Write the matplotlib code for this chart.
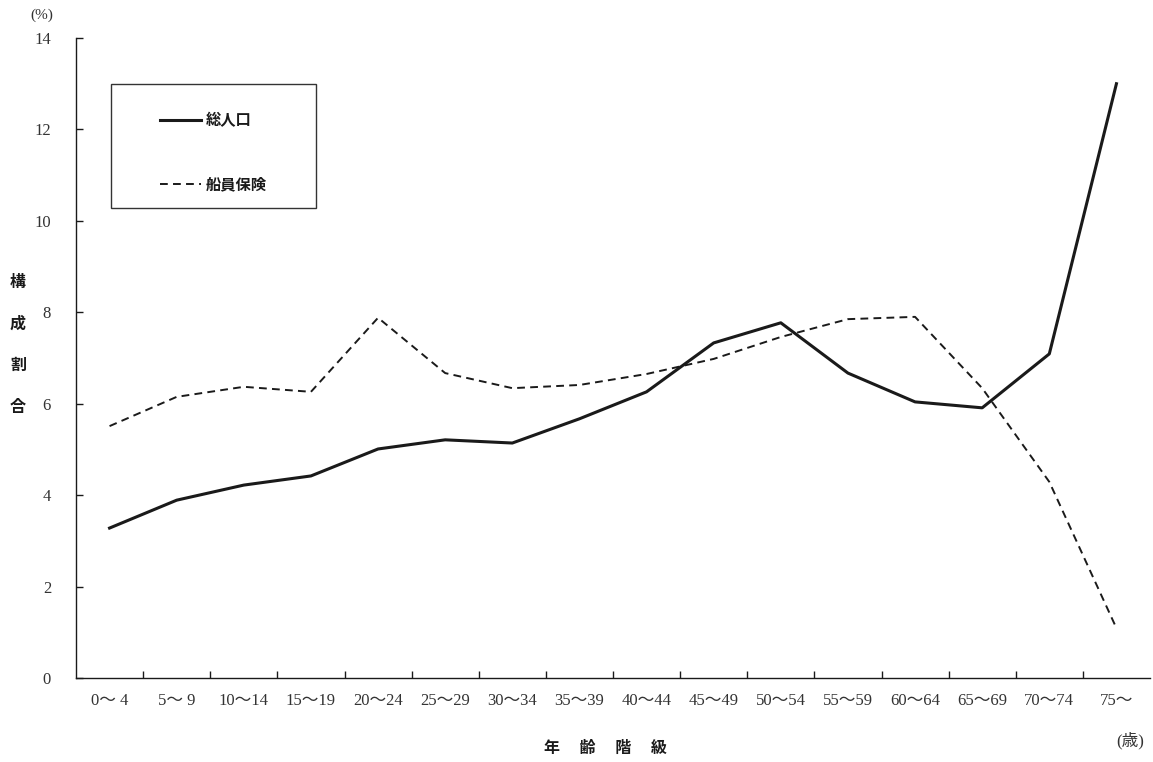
import numpy as np
import matplotlib.pyplot as plt
from matplotlib.patches import Rectangle

# =========================================================
# DATA
# =========================================================

age_groups = [
    "0〜 4", "5〜 9", "10〜14", "15〜19", "20〜24", "25〜29",
    "30〜34", "35〜39", "40〜44", "45〜49", "50〜54", "55〜59",
    "60〜64", "65〜69", "70〜74", "75〜",
]

total_pop = [
    3.28, 3.89, 4.22, 4.42, 5.01, 5.21, 5.14, 5.67,
    6.26, 7.33, 7.77, 6.67, 6.04, 5.91, 7.09, 13.0,
]

seamen_ins = [
    5.51, 6.15, 6.37, 6.26, 7.88, 6.67, 6.34, 6.41,
    6.65, 6.98, 7.46, 7.85, 7.90, 6.34, 4.29, 1.09,
]

y_ticks = [0, 2, 4, 6, 8, 10, 12, 14]

SERIF = ["Liberation Serif", "Noto Sans CJK JP"]
SANS = ["Noto Sans CJK JP", "DejaVu Sans"]
INK = "#1a1a1a"
GREY = "#333333"

# =========================================================
# FIGURE
# =========================================================

fig = plt.figure(figsize=(11.53, 7.62), dpi=100)
ax = fig.add_axes([76 / 1153, 84 / 762, 1074 / 1153, 640 / 762])

x = np.arange(len(age_groups)) + 0.5

ax.plot(x, total_pop, color=INK, linewidth=2.2, label="総人口")
ax.plot(
    x, seamen_ins,
    color=INK,
    linewidth=1.4,
    linestyle=(0, (4.0, 2.7)),
    label="船員保険",
)

ax.set_xlim(0, len(age_groups))
ax.set_ylim(0, 14)

for side in ["top", "right"]:
    ax.spines[side].set_visible(False)
for side in ["left", "bottom"]:
    ax.spines[side].set_linewidth(1.0)
    ax.spines[side].set_color(INK)

# y axis
ax.set_yticks(y_ticks)
ax.set_yticklabels([str(v) for v in y_ticks], family=SERIF, fontsize=12,
                   color=GREY)
ax.tick_params(axis="y", direction="in", length=5, width=1, pad=18,
               colors=INK, labelcolor=GREY)

# x axis : ticks at boundaries, labels at centers
ax.set_xticks(np.arange(1, len(age_groups)))
ax.set_xticklabels([])
ax.set_xticks(x, minor=True)
ax.set_xticklabels(age_groups, minor=True, family=SERIF, fontsize=12,
                   color=GREY)
ax.tick_params(axis="x", which="major", direction="in", length=5, width=1,
               colors=INK)
ax.tick_params(axis="x", which="minor", length=0, pad=11)

# legend (manual frame)
ax.add_patch(Rectangle(
    (0.0326, 0.734), 0.191, 0.194,
    transform=ax.transAxes, fill=False, edgecolor=GREY,
    linewidth=1.0, zorder=3,
))
ax.legend(
    loc="upper left",
    bbox_to_anchor=(0.065, 0.905),
    frameon=False,
    prop={"family": SANS, "size": 11, "weight": "bold"},
    handlelength=2.7,
    handletextpad=0.3,
    labelspacing=3.1,
    labelcolor=INK,
)

# axis labels
fig.text(42 / 1153, 1 - 15 / 762, "(%)", family=SERIF, fontsize=11,
         color=GREY, ha="center", va="center")
for i, ch in enumerate("構成割合"):
    fig.text(18 / 1153, 1 - (282 + i * 41.7) / 762, ch, family=SANS,
             fontsize=11.5, fontweight="bold", color=INK,
             ha="center", va="center")
fig.text(605 / 1153, 1 - 748 / 762, "年　 齢　 階　 級", family=SANS,
         fontsize=11.5, fontweight="bold", color=INK,
         ha="center", va="center")
fig.text(1130 / 1153, 1 - 741 / 762, "(歳)", family=SERIF, fontsize=12,
         color=GREY, ha="center", va="center")

fig.savefig("out.png", dpi=100)
